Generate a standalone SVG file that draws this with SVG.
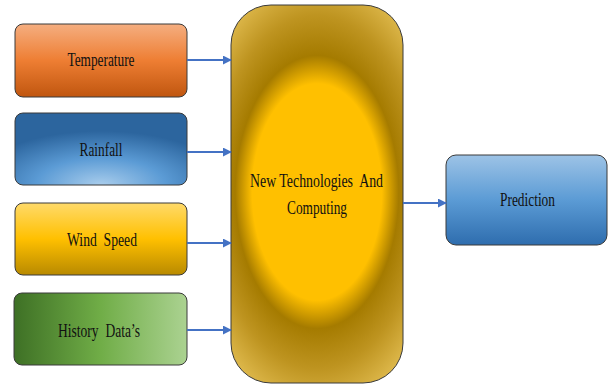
<svg xmlns="http://www.w3.org/2000/svg" width="608" height="385" viewBox="0 0 608 385">
  <defs>
    <linearGradient id="gOrange" x1="0" y1="0" x2="0" y2="1">
      <stop offset="0" stop-color="#F5AE80"/>
      <stop offset="0.5" stop-color="#EE7E33"/>
      <stop offset="1" stop-color="#C0560F"/>
    </linearGradient>
    <radialGradient id="gBlue" cx="0.5" cy="1" r="0.75" fx="0.5" fy="1">
      <stop offset="0" stop-color="#A9CDEC"/>
      <stop offset="0.5" stop-color="#5B9BD5"/>
      <stop offset="1" stop-color="#2C659E"/>
    </radialGradient>
    <linearGradient id="gYellow" x1="0" y1="0" x2="0" y2="1">
      <stop offset="0" stop-color="#FFDA6A"/>
      <stop offset="0.5" stop-color="#FFC000"/>
      <stop offset="1" stop-color="#B88A00"/>
    </linearGradient>
    <linearGradient id="gGreen" x1="0" y1="0" x2="1" y2="0">
      <stop offset="0" stop-color="#3E7025"/>
      <stop offset="0.5" stop-color="#70AD47"/>
      <stop offset="1" stop-color="#ABD291"/>
    </linearGradient>
    <linearGradient id="gPred" x1="0" y1="0" x2="0" y2="1">
      <stop offset="0" stop-color="#9DC3E6"/>
      <stop offset="0.5" stop-color="#5B9BD5"/>
      <stop offset="1" stop-color="#2E6DAE"/>
    </linearGradient>
    <radialGradient id="gCore" gradientUnits="userSpaceOnUse" cx="0" cy="0" r="141" gradientTransform="translate(317 192) scale(1 1.67)">
      <stop offset="0" stop-color="#FFC000"/>
      <stop offset="0.46" stop-color="#FFC000"/>
      <stop offset="0.58" stop-color="#A57B00"/>
      <stop offset="0.75" stop-color="#BE9420"/>
      <stop offset="1" stop-color="#EAC65C"/>
    </radialGradient>
    <marker id="arrow" viewBox="0 0 10 10" refX="9" refY="5" markerWidth="4.5" markerHeight="4.5" orient="auto" markerUnits="strokeWidth">
      <path d="M0,0 L10,5 L0,10 z" fill="#4472C4"/>
    </marker>
  </defs>
  <style>
    .box { stroke: #3A3A3A; stroke-width: 1; }
    .lbl { font-family: "Liberation Serif", "Times New Roman", serif; font-size: 19px; fill: #111; text-anchor: middle; white-space: pre; }
    .conn { stroke: #4472C4; stroke-width: 2; fill: none; marker-end: url(#arrow); }
  </style>

  <g id="temperature">
    <rect class="box" x="15" y="24" width="172" height="73" rx="8" fill="url(#gOrange)"/>
    <text class="lbl" x="101" y="66" textLength="67" lengthAdjust="spacingAndGlyphs">Temperature</text>
  </g>
  <g id="rainfall">
    <rect class="box" x="15" y="113" width="172" height="72" rx="8" fill="url(#gBlue)"/>
    <text class="lbl" x="101" y="156" textLength="43" lengthAdjust="spacingAndGlyphs">Rainfall</text>
  </g>
  <g id="wind-speed">
    <rect class="box" x="15" y="203" width="172" height="72" rx="8" fill="url(#gYellow)"/>
    <text class="lbl" x="102" y="246" textLength="70" lengthAdjust="spacingAndGlyphs" xml:space="preserve">Wind  Speed</text>
  </g>
  <g id="history-data">
    <rect class="box" x="14" y="293" width="173" height="72" rx="8" fill="url(#gGreen)"/>
    <text class="lbl" x="99" y="337" textLength="82" lengthAdjust="spacingAndGlyphs" xml:space="preserve">History  Data’s</text>
  </g>
  <g id="core">
    <rect class="box" x="231" y="5" width="172" height="378" rx="40" fill="url(#gCore)"/>
    <text class="lbl" x="316.5" y="187" textLength="133" lengthAdjust="spacingAndGlyphs" xml:space="preserve">New Technologies  And</text>
    <text class="lbl" x="317" y="214" textLength="60" lengthAdjust="spacingAndGlyphs">Computing</text>
  </g>
  <g id="prediction">
    <rect class="box" x="446" y="155" width="161" height="90" rx="10" fill="url(#gPred)"/>
    <text class="lbl" x="527.5" y="206" textLength="55" lengthAdjust="spacingAndGlyphs">Prediction</text>
  </g>

  <g id="connectors">
    <line class="conn" x1="187" y1="60" x2="231" y2="60"/>
    <line class="conn" x1="187" y1="152" x2="231" y2="152"/>
    <line class="conn" x1="187" y1="243" x2="231" y2="243"/>
    <line class="conn" x1="187" y1="330" x2="231" y2="330"/>
    <line class="conn" x1="403" y1="203" x2="446" y2="203"/>
  </g>
</svg>
